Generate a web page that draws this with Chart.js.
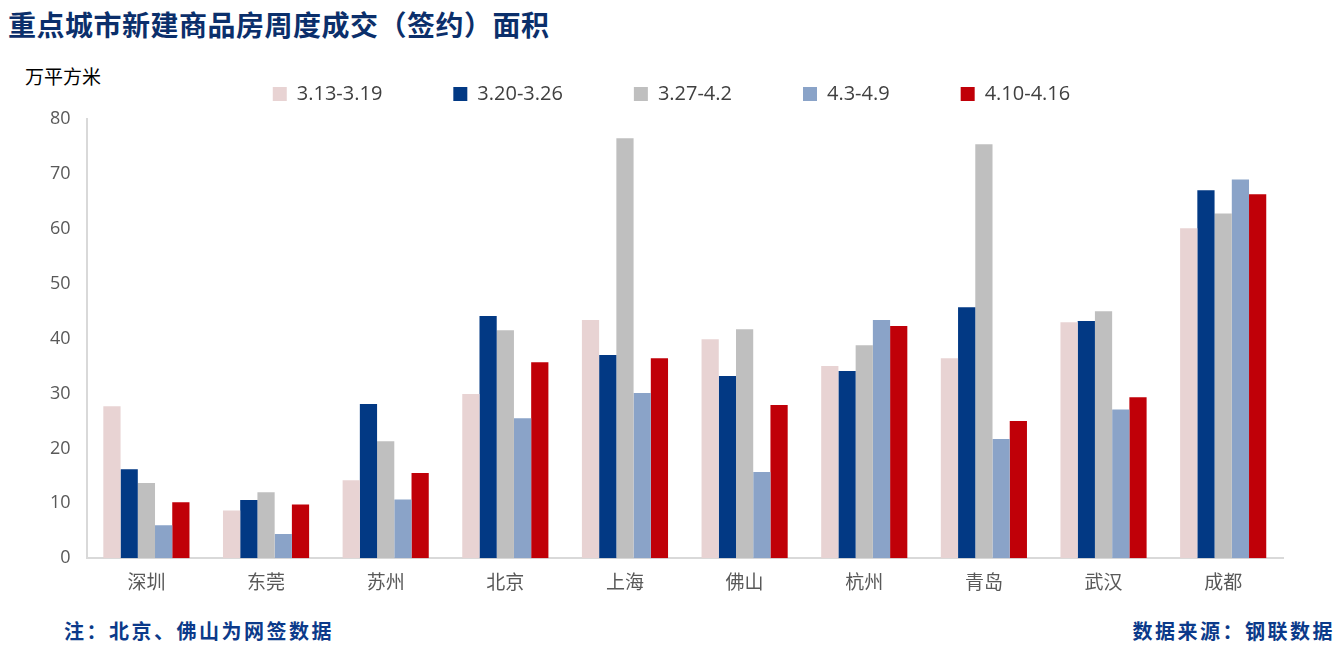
<!DOCTYPE html>
<html>
<head>
<meta charset="utf-8">
<script src="https://cdn.jsdelivr.net/npm/chart.js@4/dist/chart.umd.min.js"></script>
<style>
  body { margin: 0; background: #fff; width: 1337px; height: 649px; overflow: hidden; position: relative; font-family: "Noto Sans CJK SC", sans-serif; }
  #titulo { position: absolute; left: 8px; top: 4px; font-size: 28px; font-weight: bold; color: #0b2f6b; letter-spacing: 0.5px; }
  #unidade { position: absolute; left: 25px; top: 62px; font-size: 19px; color: #000; }
  #nota { position: absolute; left: 64px; top: 616px; font-size: 20px; font-weight: bold; color: #0b3a8a; letter-spacing: 2.5px; }
  #fonte { position: absolute; right: 2px; top: 616px; font-size: 20px; font-weight: bold; color: #0b3a8a; letter-spacing: 2.5px; }
  #caixa { position: absolute; left: 0; top: 13px; width: 1337px; height: 584px; }
</style>
</head>
<body>
<div id="titulo">重点城市新建商品房周度成交（签约）面积</div>
<div id="unidade">万平方米</div>
<div id="caixa"><canvas id="grafico"></canvas></div>
<div id="nota">注：北京、佛山为网签数据</div>
<div id="fonte">数据来源：钢联数据</div>
<script>
const cidades = ['深圳', '东莞', '苏州', '北京', '上海', '佛山', '杭州', '青岛', '武汉', '成都'];
const semanas = ['3.13-3.19', '3.20-3.26', '3.27-4.2', '4.3-4.9', '4.10-4.16'];
const semana1 = [27.7, 8.7, 14.2, 29.9, 43.4, 39.9, 35.0, 36.4, 43.0, 60.1];
const semana2 = [16.2, 10.6, 28.1, 44.1, 37.0, 33.2, 34.1, 45.7, 43.2, 67.0];
const semana3 = [13.7, 12.0, 21.3, 41.5, 76.5, 41.7, 38.8, 75.4, 45.0, 62.8];
const semana4 = [6.0, 4.4, 10.7, 25.5, 30.1, 15.7, 43.4, 21.7, 27.1, 69.0];
const semana5 = [10.2, 9.8, 15.5, 35.7, 36.4, 27.9, 42.3, 25.0, 29.3, 66.3];
const cores = ['#e8d3d3', '#023984', '#bfbfbf', '#8aa3c8', '#c00008'];
const valores = [semana1, semana2, semana3, semana4, semana5];

// legenda: mais espaço embaixo e um pequeno deslocamento para a direita
const ajusteLegenda = {
    id: 'ajusteLegenda',
    afterInit(chart) {
        const legenda = chart.legend;
        if (!legenda) return;
        const fitOriginal = legenda.fit;
        legenda.fit = function () {
            fitOriginal.call(this);
            this.height += 5;
        };
    },
    afterLayout(chart) {
        if (!chart.legend) return;
        chart.legend.left += 9;
        chart.legend.right += 9;
    },
};

new Chart(document.getElementById('grafico'), {
    type: 'bar',
    data: {
        labels: cidades,
        datasets: semanas.map((s, i) => ({
            label: s,
            data: valores[i],
            backgroundColor: cores[i],
            borderWidth: 0,
            categoryPercentage: 0.72,
            barPercentage: 1.0,
        })),
    },
    options: {
        responsive: true,
        maintainAspectRatio: false,
        animation: false,
        layout: { padding: { left: 42, right: 54, top: 0, bottom: 0 } },
        plugins: {
            legend: {
                display: true,
                labels: {
                    boxWidth: 14,
                    boxHeight: 14,
                    padding: 71,
                    color: '#404040',
                    font: { size: 20, family: 'Open Sans' },
                },
            },
            tooltip: { enabled: false },
        },
        scales: {
            x: {
                grid: { display: false },
                border: { color: '#d9d9d9', width: 2 },
                ticks: { color: '#595959', font: { size: 19, family: 'Noto Sans CJK SC' }, padding: 4 },
            },
            y: {
                min: 0,
                max: 80,
                grid: { display: false },
                border: { color: '#d9d9d9', width: 2 },
                ticks: { stepSize: 10, color: '#595959', font: { size: 18, family: 'Open Sans' }, padding: 8 },
            },
        },
    },
    plugins: [ajusteLegenda],
});
</script>
</body>
</html>
